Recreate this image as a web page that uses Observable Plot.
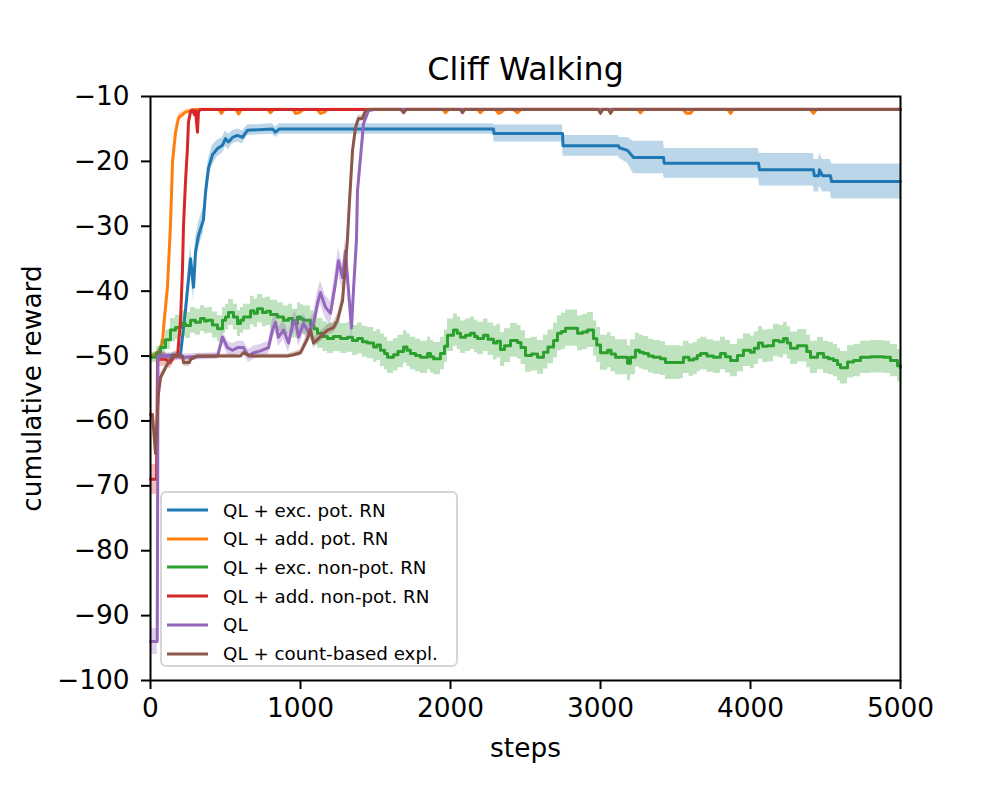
<!DOCTYPE html>
<html>
<head>
<meta charset="utf-8">
<script src="https://cdn.jsdelivr.net/npm/d3@7"></script>
<script src="https://cdn.jsdelivr.net/npm/@observablehq/plot@0.6"></script>
<style>
  body { margin: 0; background: #fff; }
  #wrap { position: relative; width: 1000px; height: 800px; font-family: "DejaVu Sans", sans-serif; }
  #legend { position: absolute; left: 160px; top: 491px; width: 298px; height: 176px;
            border: 2px solid #d6d6d6; border-radius: 6px; background: rgba(255,255,255,0.8);
            box-sizing: border-box; }
  .row { position: absolute; left: 5px; height: 28px; display: flex; align-items: center;
         font-size: 18.3px; color: #000; white-space: nowrap; }
  .row svg { margin-right: 15px; }
  svg g[aria-label$="tick"] path { stroke-width: 2px; }
</style>
</head>
<body>
<div id="wrap"></div>
<script>
// ---- tick values ----
const xTicks = [0, 1000, 2000, 3000, 4000, 5000];
const yTicks = [-100, -90, -80, -70, -60, -50, -40, -30, -20, -10];

// ---- series labels & colours ----
const seriesNames = ["QL + exc. pot. RN", "QL + add. pot. RN", "QL + exc. non-pot. RN",
                     "QL + add. non-pot. RN", "QL", "QL + count-based expl."];
const seriesColors = ["#1f77b4", "#ff7f0e", "#2ca02c", "#d62728", "#9467bd", "#8c564b"];

// ---- data: [steps, mean reward, half-width of shaded band] ----
const excPot = [[0,-50,0.3],[100,-50,0.3],[200,-49.8,0.5],[233,-43,1.5],[267,-35,2],[287,-39.4,2],[300,-34,2],
  [320,-31.4,2],[353,-29,2],[367,-24.8,1.8],[387,-21,1.5],[413,-19,1.5],[447,-18,1.3],[480,-17.5,1.2],
  [500,-16.5,1.2],[520,-17,1.2],[547,-16.3,1],[580,-16,1],[613,-16.3,1],[647,-15.2,0.8],[813,-15,0.8],
  [833,-15.5,0.8],[860,-15,0.8],[2287,-15,0.8],[2290,-15.7,1.3],[2747,-15.7,1.3],[2750,-17.6,1.6],
  [3120,-17.6,1.6],[3125,-17.9,1.6],[3180,-18.3,2],[3220,-19.4,2.5],[3420,-19.4,2.5],[3425,-20.3,2.3],
  [4053,-20.3,2.3],[4060,-21.3,2.5],[4420,-21.3,2.5],[4425,-22.2,2.5],[4455,-22.2,2.5],[4460,-21.3,2.5],
  [4480,-22.2,2.5],[4533,-22.2,2.5],[4540,-23.1,2.7],[5000,-23.1,2.7]];

const addPot = [[0,-50,0.3],[50,-49.6,0.5],[80,-48,0.8],[87,-45.6,1],[113,-39.4,1.5],[133,-29.9,2],
  [147,-20,1.5],[167,-15.5,1],[187,-13.3,0.6],[233,-12.4,0.4],[280,-12.1,0.3],[300,-12,0.2],
  [455,-12,0.2],[473,-12.6,0.3],[490,-12,0.2],[570,-12,0.2],[587,-12.7,0.3],[605,-12,0.2],
  [780,-12,0.2],[800,-12.5,0.3],[820,-12,0.2],[950,-12,0.2],[967,-12.6,0.3],[990,-12.5,0.3],[1020,-12,0.2],
  [1110,-12,0.2],[1133,-12.6,0.3],[1160,-12.4,0.3],[1180,-12,0.2],[1950,-12,0.2],[1967,-12.5,0.3],[1985,-12,0.2],
  [2180,-12,0.2],[2200,-12.5,0.3],[2220,-12,0.2],[2300,-12,0.2],[2320,-12.6,0.3],[2340,-12.4,0.3],[2360,-12,0.2],
  [2420,-12,0.2],[2447,-12.5,0.3],[2470,-12,0.2],[3250,-12,0.2],[3267,-12.5,0.3],[3285,-12,0.2],
  [3550,-12,0.2],[3573,-12.6,0.3],[3600,-12.6,0.3],[3620,-12,0.2],[3850,-12,0.2],[3867,-12.6,0.3],[3885,-12,0.2],
  [4400,-12,0.2],[4420,-12.6,0.3],[4440,-12,0.2],[5000,-12,0.2]];

const excNonPot = [[0,-50.2,0.8],[13,-50.2,0.8],[40,-49.5,1],[67,-48.7,1.2],[100,-47.5,1.5],[133,-46,1.8],
  [167,-45.6,1.9],[200,-45,2],[233,-45.3,2],[267,-44.5,2],[300,-44.8,2],
  [333,-44.2,2],[360,-44.6,2],[380,-44.5,2],[413,-45.2,2],[447,-45.8,2],[480,-44.5,2],[500,-44,2],[520,-43.3,2],
  [553,-44,2],[580,-45,2],[600,-44.5,2],[620,-44,2],
  [667,-43,2.2],[690,-43.4,2.2],[713,-42.7,2.2],[747,-43.3,2.2],[773,-43.1,2.2],[800,-43.6,2.2],[847,-44,2.2],
  [887,-44.5,2.2],[920,-44.2,2.2],[947,-45,2.2],
  [980,-44,2.2],[1000,-44.3,2.2],[1020,-44.5,2.2],[1067,-45.3,2.3],[1090,-45.8,2.3],[1113,-46.5,2.3],[1150,-47,2.3],
  [1180,-47.3,2.3],[1220,-47,2.3],[1267,-47.3,2.3],
  [1313,-47.1,2.3],[1347,-47.6,2.3],[1380,-47.3,2.4],[1413,-47.8,2.4],[1447,-48,2.4],[1487,-48.6,2.4],[1510,-48.3,2.4],
  [1533,-49.1,2.5],[1560,-49.6,2.5],[1580,-50.2,2.5],
  [1620,-49.8,2.5],[1650,-49.3,2.5],[1687,-48.6,2.5],[1710,-49.1,2.5],[1733,-49.6,2.5],[1767,-49.9,2.5],[1800,-50.2,2.5],
  [1847,-49.6,2.5],[1867,-50.1,2.5],[1887,-50.4,2.5],
  [1933,-49.6,2.5],[1960,-48.5,2.5],[1980,-46.8,2.5],[2020,-46,2.5],[2045,-46.5,2.5],[2067,-47.1,2.5],[2100,-46.8,2.5],
  [2133,-46.5,2.5],[2160,-47,2.5],[2180,-47.3,2.5],
  [2220,-46.8,2.5],[2250,-47.4,2.5],[2287,-48,2.6],[2310,-47.7,2.6],[2333,-49,2.6],[2360,-48.4,2.6],[2400,-47.6,2.6],
  [2447,-47.9,2.6],[2470,-48.7,2.6],[2500,-49.9,2.6],
  [2540,-49.7,2.6],[2580,-50.2,2.6],[2620,-49.4,2.6],[2650,-48.6,2.6],[2687,-47.6,2.7],[2713,-46.5,2.7],[2740,-46.2,2.8],
  [2767,-45.7,2.8],[2820,-45.7,2.8],
  [2847,-46.5,2.7],[2880,-46.3,2.7],[2913,-46,2.7],[2953,-47.3,2.7],[2975,-48.3,2.7],[3000,-49.5,2.7],[3047,-49.1,2.7],
  [3070,-49.7,2.7],[3100,-50.2,2.7],
  [3167,-50.2,2.7],[3180,-51.1,2.7],[3200,-50.2,2.7],[3233,-49.1,2.6],[3260,-49.4,2.6],[3287,-49.6,2.6],[3320,-50,2.6],
  [3353,-50.2,2.6],[3400,-50.4,2.6],
  [3433,-51,2.6],[3533,-51,2.5],[3553,-50.2,2.5],[3590,-50.6,2.5],[3620,-50.4,2.5],[3645,-49.9,2.5],[3667,-49.6,2.5],
  [3710,-50,2.5],[3753,-50.2,2.5],
  [3800,-49.6,2.5],[3833,-50.1,2.5],[3867,-50.7,2.5],[3913,-49.9,2.5],[3953,-49.1,2.5],[4000,-49.4,2.5],[4025,-48.8,2.5],
  [4053,-48,2.5],[4080,-48.5,2.5],
  [4113,-48.4,2.5],[4153,-47.6,2.5],[4190,-47.8,2.5],[4220,-47.3,2.5],[4245,-48,2.5],[4267,-48.8,2.5],[4313,-48.4,2.5],
  [4353,-48.4,2.5],[4375,-49.3,2.5],
  [4400,-50.2,2.5],[4447,-49.6,2.5],[4487,-50.2,2.5],[4520,-50.4,2.5],[4553,-50.7,2.5],[4580,-51.3,2.5],[4600,-51.8,2.5],
  [4647,-50.9,2.5],[4687,-50.7,2.5],[4733,-50.2,2.5],[4800,-50.1,2.5],[4887,-50.2,2.5],[4933,-50.7,2.5],
  [4980,-51.5,2.5],[5000,-51.8,2.5]];

const addNonPot = [[0,-69,2.3],[40,-69,2.3],[47,-50.5,1.2],[100,-50.5,1],[130,-51,1],[160,-50,0.8],
  [180,-50,0.6],[200,-44.5,1],[213,-36.8,1],[220,-29.9,1],[233,-23.3,0.8],[247,-17.6,0.6],[253,-14,0.4],
  [267,-12.3,0.3],[280,-12.1,0.3],[293,-12.8,0.3],[300,-12.2,0.3],[313,-15.5,0.4],[320,-12.3,0.3],
  [333,-12,0.2],[5000,-12,0.2]];

const qlPlain = [[0,-94,2],[45,-94,2],[50,-50,1],[100,-50,0.5],[200,-50.2,0.5],[447,-50,0.5],[480,-47.1,1],
  [513,-48.7,1],[547,-49.1,1],[580,-48.7,1],[620,-48.7,1],[653,-50,1],[687,-49.5,1],[733,-49.2,1],
  [787,-48.7,1],[813,-46,1.5],[833,-44.8,1.5],[853,-47.1,1.5],[887,-46,1.5],[920,-48,1.5],[947,-45.3,1.5],
  [967,-44.5,1.5],[987,-47.1,1.5],[1020,-45,1.5],[1053,-46.3,1.5],[1087,-45,1.5],[1113,-41.9,1.8],
  [1133,-40.2,1.8],[1167,-42.5,1.8],[1200,-43.4,1.8],[1233,-38.8,2],[1253,-35.3,2],[1280,-37.9,2],
  [1300,-33.8,2],[1320,-39.9,2],[1340,-45.7,2],[1353,-39.9,2],[1373,-32.2,2],[1380,-24.5,1.5],
  [1400,-19.4,1.2],[1420,-14.2,0.8],[1453,-12.2,0.3],[1487,-12,0.2],[5000,-12,0.2]];

const countExpl = [[0,-59,0.5],[13,-59,0.5],[33,-65,0.8],[47,-58.4,0.8],[53,-55.8,0.8],[67,-53.3,0.6],
  [100,-51.8,0.5],[133,-50.5,0.4],[153,-50,0.3],[213,-50,0.3],[220,-51,0.6],[260,-51,0.6],[267,-50.5,0.4],
  [313,-50,0.3],[600,-50,0.3],[620,-49.5,0.3],[667,-50,0.3],[913,-50,0.3],[953,-49.8,0.4],[1000,-49.5,0.5],
  [1047,-47.3,0.8],[1067,-46,0.8],[1087,-48,0.8],[1133,-47,0.8],[1180,-46,0.8],[1220,-45.6,0.8],
  [1247,-44.5,1],[1280,-41.5,1.2],[1300,-36,1.5],[1313,-32,1.5],[1327,-26,1.5],[1347,-18.3,1],
  [1367,-14.8,0.8],[1387,-13.4,0.5],[1413,-13.4,0.5],[1433,-12.2,0.3],[1453,-12,0.2],
  [1670,-12,0.2],[1687,-12.5,0.3],[1705,-12,0.2],[2065,-12,0.2],[2080,-12.5,0.3],[2095,-12,0.2],
  [2985,-12,0.2],[3000,-12.6,0.3],[3015,-12,0.2],[3052,-12,0.2],[3067,-12.6,0.3],[3082,-12,0.2],
  [5000,-12,0.2]];

const seriesData = [excPot, addPot, excNonPot, addNonPot, qlPlain, countExpl];
const seriesCurves = ["linear", "linear", "step-after", "linear", "linear", "linear"];

// ---- build marks ----
const marks = [];
seriesData.forEach((data, i) => {
  marks.push(Plot.areaY(data, {
    x: d => d[0], y1: d => d[1] - d[2], y2: d => d[1] + d[2],
    fill: seriesColors[i], fillOpacity: 0.3, curve: seriesCurves[i]
  }));
  marks.push(Plot.lineY(data, {
    x: d => d[0], y: d => d[1], stroke: seriesColors[i], strokeWidth: 3,
    curve: seriesCurves[i], strokeLinejoin: "round"
  }));
});
marks.push(Plot.frame({stroke: "black", strokeWidth: 2}));
marks.push(Plot.text(["Cliff Walking"], {text: d => d, frameAnchor: "top", lineAnchor: "middle", dy: -27, fontSize: 31.7, fill: "black"}));
marks.push(Plot.text(["steps"], {text: d => d, frameAnchor: "bottom", lineAnchor: "middle", dy: 68, fontSize: 26.4, fill: "black"}));
marks.push(Plot.text(["cumulative reward"], {text: d => d, frameAnchor: "left", textAnchor: "middle", lineAnchor: "middle", dx: -118, rotate: -90, fontSize: 26.4, fill: "black"}));

const chart = Plot.plot({
  width: 1000, height: 800,
  marginLeft: 150, marginRight: 100, marginTop: 96, marginBottom: 120,
  style: {fontFamily: "DejaVu Sans", fontSize: "26.4px", background: "white", color: "black", overflow: "visible"},
  x: {domain: [0, 5000], ticks: xTicks, tickSize: 9, tickPadding: 9, label: null, tickFormat: d3.format("d")},
  y: {domain: [-100, -10], ticks: yTicks, tickSize: 9, tickPadding: 12, label: null, tickFormat: d3.format("d")},
  marks
});

const wrap = document.getElementById("wrap");
wrap.appendChild(chart);

// ---- legend ----
const legend = document.createElement("div");
legend.id = "legend";
seriesNames.forEach((name, i) => {
  const row = document.createElement("div");
  row.className = "row";
  row.style.top = (3 + i * 28.7) + "px";
  row.innerHTML = `<svg width="41" height="6"><line x1="0" y1="3" x2="41" y2="3" stroke="${seriesColors[i]}" stroke-width="3"/></svg><span>${name}</span>`;
  legend.appendChild(row);
});
wrap.appendChild(legend);
</script>
</body>
</html>
